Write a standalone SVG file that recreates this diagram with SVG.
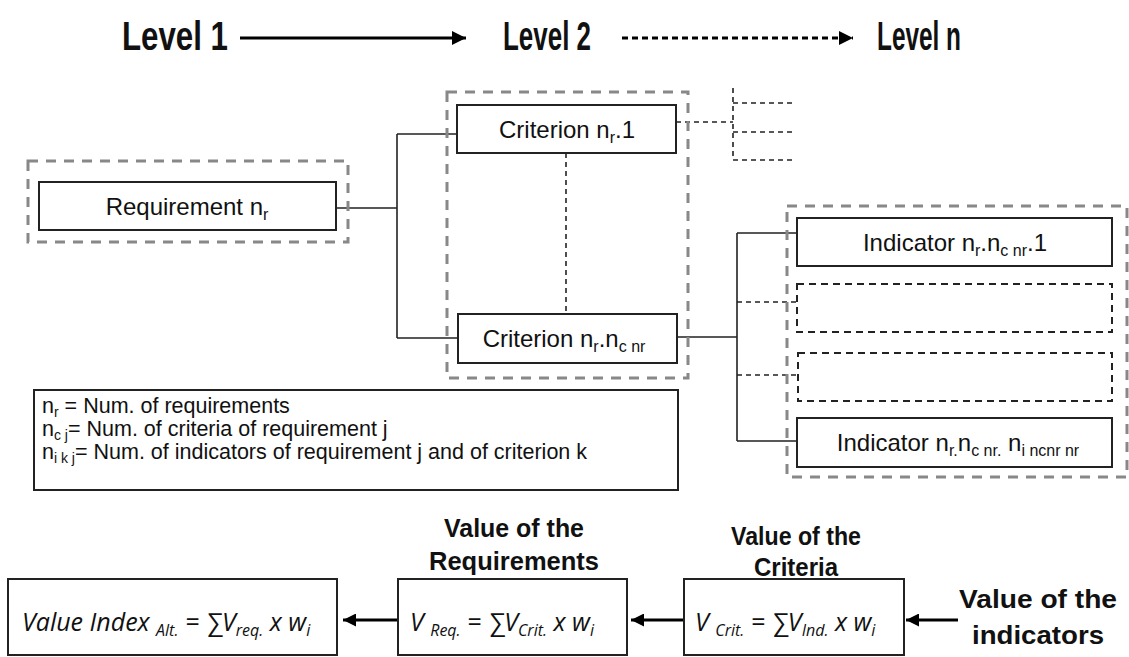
<svg xmlns="http://www.w3.org/2000/svg" width="1129" height="657" viewBox="0 0 1129 657">
<style>
.bg{fill:#fff}
.grp{fill:none;stroke:#888;stroke-width:3;stroke-dasharray:10 8}
.box{fill:#fff;stroke:#222;stroke-width:2}
.dbox{fill:none;stroke:#222;stroke-width:2;stroke-dasharray:7 5}
.ln{fill:none;stroke:#222;stroke-width:1.6}
.dln{fill:none;stroke:#222;stroke-width:1.6;stroke-dasharray:5 4}
.t{font-family:"Liberation Sans",Arial,sans-serif;font-size:24px;fill:#111}
.lg{font-family:"Liberation Sans",Arial,sans-serif;font-size:21.5px;fill:#111}
.lvl{font-family:"Liberation Sans",Arial,sans-serif;font-weight:bold;font-size:40px;fill:#111}
.lab{font-family:"Liberation Sans",Arial,sans-serif;font-weight:bold;font-size:26px;fill:#111}
.f{font-family:"Open Sans","DejaVu Sans",sans-serif;font-style:italic;font-size:25px;fill:#111}
.arr{fill:none;stroke:#000;stroke-width:3}
</style>
<defs>
<marker id="ah" viewBox="0 0 10 10" refX="10" refY="5" markerWidth="14" markerHeight="16" markerUnits="userSpaceOnUse" orient="auto"><path d="M0,0 L10,5 L0,10 Z" fill="#000"/></marker>
<marker id="ahb" viewBox="0 0 10 10" refX="10" refY="5" markerWidth="13" markerHeight="13" markerUnits="userSpaceOnUse" orient="auto"><path d="M0,0 L10,5 L0,10 Z" fill="#000"/></marker>
</defs>
<rect class="bg" x="0" y="0" width="1129" height="657"/>

<g id="levels">
<text class="lvl" x="122" y="50" textLength="106" lengthAdjust="spacingAndGlyphs">Level 1</text>
<text class="lvl" x="503" y="50" textLength="88" lengthAdjust="spacingAndGlyphs">Level 2</text>
<text class="lvl" x="877" y="50" textLength="84" lengthAdjust="spacingAndGlyphs">Level n</text>
</g>

<g id="connectors">
<line class="arr" x1="240" y1="38" x2="466" y2="38" marker-end="url(#ah)"/>
<line class="arr" x1="622" y1="38" x2="853" y2="38" stroke-dasharray="6 4" marker-end="url(#ah)"/>
<path class="ln" d="M336,208 H397 M397,134 V338 M397,134 H457 M397,338 H458"/>
<line class="dln" x1="566" y1="153" x2="566" y2="314"/>
<path class="dln" d="M676,122 H733 M733,88 V160 M733,103 H793 M733,132 H793 M733,160 H793"/>
<path class="ln" d="M677,337 H737 M737,233 V441 M737,233 H797 M737,441 H797"/>
<path class="dln" d="M737,302 H797 M737,375 H798"/>
<line class="arr" x1="398" y1="620" x2="343" y2="620" marker-end="url(#ahb)"/>
<line class="arr" x1="684" y1="620" x2="631" y2="620" marker-end="url(#ahb)"/>
<line class="arr" x1="958" y1="620" x2="906" y2="620" marker-end="url(#ahb)"/>
</g>

<g id="requirement">
<rect class="grp" x="28" y="161" width="320" height="81"/>
<rect class="box" x="39" y="182" width="297" height="48"/>
<text class="t" x="187" y="215" text-anchor="middle">Requirement n<tspan font-size="16" dy="5">r</tspan></text>
</g>

<g id="criteria">
<rect class="grp" x="447" y="92" width="241" height="286"/>
<rect class="box" x="457" y="105" width="219" height="48"/>
<text class="t" x="567" y="138" text-anchor="middle">Criterion n<tspan font-size="16" dy="5">r</tspan><tspan dy="-5">.1</tspan></text>
<rect class="box" x="458" y="314" width="219" height="49"/>
<text class="t" x="564" y="347" text-anchor="middle">Criterion n<tspan font-size="16" dy="5">r</tspan><tspan dy="-5">.n</tspan><tspan font-size="16" dy="5">c nr</tspan></text>
</g>

<g id="indicators">
<rect class="grp" x="787" y="206" width="340" height="271"/>
<rect class="box" x="797" y="218" width="315" height="48"/>
<text class="t" x="955" y="251" text-anchor="middle">Indicator n<tspan font-size="16" dy="5">r</tspan><tspan dy="-5">.n</tspan><tspan font-size="16" dy="5">c nr</tspan><tspan dy="-5">.1</tspan></text>
<rect class="dbox" x="797" y="284" width="315" height="48"/>
<rect class="dbox" x="798" y="353" width="314" height="48"/>
<rect class="box" x="797" y="418" width="315" height="49"/>
<text class="t" x="958" y="451" text-anchor="middle">Indicator n<tspan font-size="16" dy="5">r.</tspan><tspan dy="-5">n</tspan><tspan font-size="16" dy="5">c nr.</tspan><tspan dy="-5"> n</tspan><tspan font-size="16" dy="5">i ncnr nr</tspan></text>
</g>

<g id="legend">
<rect class="box" x="34" y="390" width="644" height="100"/>
<text class="lg" x="42" y="413">n<tspan font-size="14" dy="4">r</tspan><tspan dy="-4"> = Num. of requirements</tspan></text>
<text class="lg" x="42" y="436">n<tspan font-size="14" dy="4">c j</tspan><tspan dy="-4">= Num. of criteria of requirement j</tspan></text>
<text class="lg" x="42" y="459">n<tspan font-size="14" dy="4">i k j</tspan><tspan dy="-4">= Num. of indicators of requirement j and of criterion k</tspan></text>
</g>

<g id="value-index">
<rect class="box" x="8" y="579" width="329" height="76" stroke="#555"/>
<text class="f" x="22" y="631">Value Index <tspan font-size="16" dy="5">Alt.</tspan><tspan dy="-5"> = ∑V</tspan><tspan font-size="16" dy="5">req.</tspan><tspan dy="-5"> x w</tspan><tspan font-size="16" dy="5">i</tspan></text>
</g>

<g id="value-requirements">
<text class="lab" x="514" y="537" text-anchor="middle" textLength="140" lengthAdjust="spacingAndGlyphs">Value of the</text>
<text class="lab" x="514" y="570" text-anchor="middle" textLength="170" lengthAdjust="spacingAndGlyphs">Requirements</text>
<rect class="box" x="398" y="579" width="229" height="76" stroke="#555"/>
<text class="f" x="410" y="631">V <tspan font-size="16" dy="5">Req.</tspan><tspan dy="-5"> = ∑V</tspan><tspan font-size="16" dy="5">Crit.</tspan><tspan dy="-5"> x w</tspan><tspan font-size="16" dy="5">i</tspan></text>
</g>

<g id="value-criteria">
<text class="lab" x="796" y="545" text-anchor="middle" textLength="130" lengthAdjust="spacingAndGlyphs">Value of the</text>
<text class="lab" x="796" y="576" text-anchor="middle" textLength="84" lengthAdjust="spacingAndGlyphs">Criteria</text>
<rect class="box" x="684" y="579" width="220" height="76" stroke="#555"/>
<text class="f" x="695" y="631">V <tspan font-size="16" dy="5">Crit.</tspan><tspan dy="-5"> = ∑V</tspan><tspan font-size="16" dy="5">Ind.</tspan><tspan dy="-5"> x w</tspan><tspan font-size="16" dy="5">i</tspan></text>
</g>

<g id="value-indicators">
<text class="lab" x="1038" y="608" text-anchor="middle" textLength="158" lengthAdjust="spacingAndGlyphs">Value of the</text>
<text class="lab" x="1038" y="644" text-anchor="middle" textLength="132" lengthAdjust="spacingAndGlyphs">indicators</text>
</g>
</svg>
